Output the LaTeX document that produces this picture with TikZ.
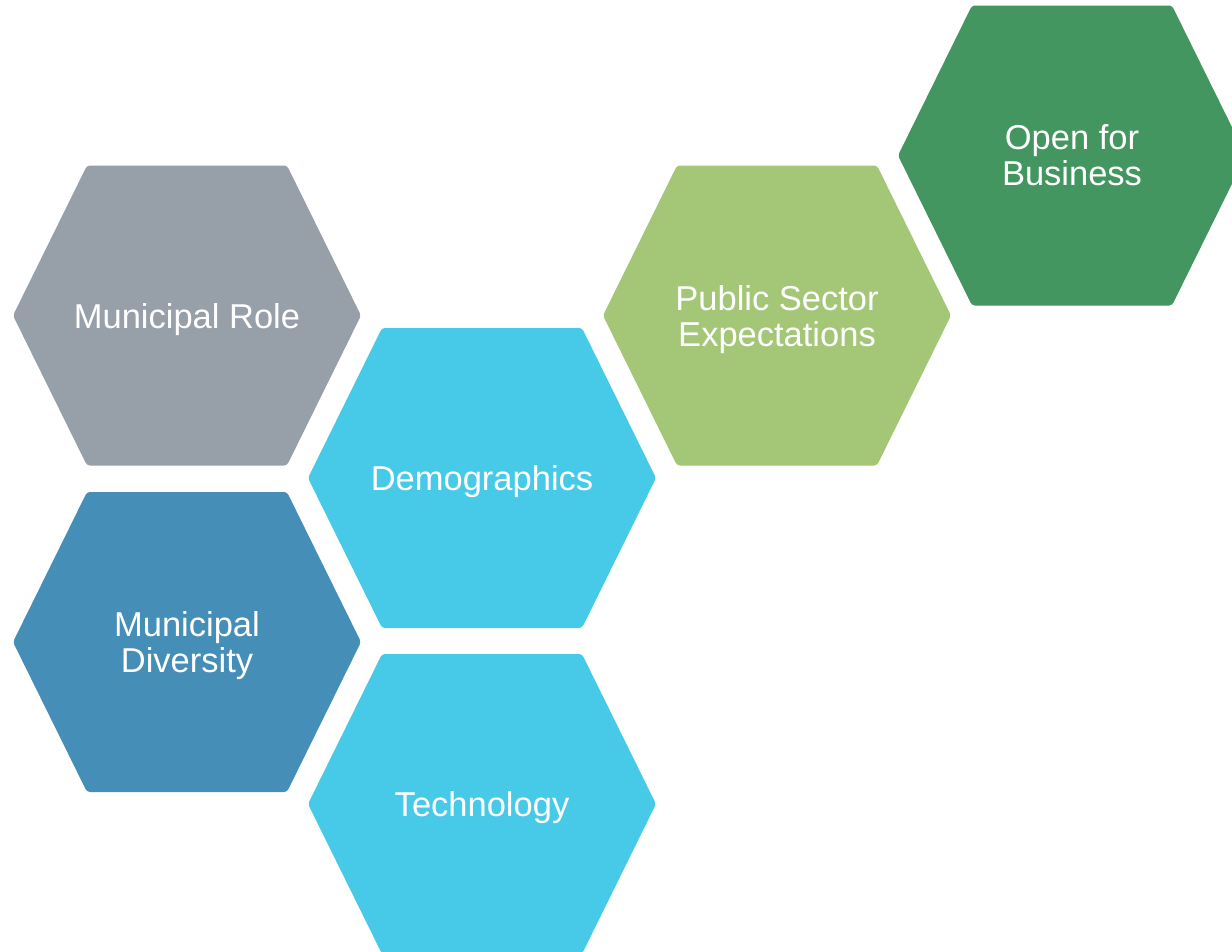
\documentclass[tikz,border=0pt]{standalone}
\usepackage{fontspec}
\setmainfont{Liberation Sans}
\usepackage{tikz}

\begin{document}
\begin{tikzpicture}
		[x=1pt,y=-1pt,line join=round,
		%Styles
		hex/.style={rounded corners=3pt,fill=#1},
		hex text/.style={text=white,align=center,inner sep=0pt,text depth=0pt,font=\fontsize{34.5}{36}\selectfont}
		]
		
		%Colors
		\colorlet{rolecolor}{rgb,255:red,151;green,159;blue,168}
		\colorlet{diversitycolor}{rgb,255:red,69;green,142;blue,184}
		\colorlet{democolor}{rgb,255:red,71;green,202;blue,232}
		\colorlet{publiccolor}{rgb,255:red,163;green,199;blue,119}
		\colorlet{opencolor}{rgb,255:red,67;green,150;blue,96}
		
		\useasboundingbox (0,0) rectangle (1232,951);
		
		%Centres of the hexagons
		\coordinate (role) at (187,315.5);
		\coordinate (diversity) at (187,642);
		\coordinate (demo) at (482,478);
		\coordinate (tech) at (482,804);
		\coordinate (public) at (777,315.5);
		\coordinate (open) at (1072,155.5);
		
		%The graphic
		\foreach \c/\col in {role/rolecolor,diversity/diversitycolor,demo/democolor,tech/democolor,public/publiccolor,open/opencolor}
			\fill[hex=\col] (\c) ++(-174,0) -- ++(74,-150) -- ++(200,0) -- ++(74,150) -- ++(-74,150) -- ++(-200,0) -- cycle;
		
		\node[hex text] (role text) at (role) {Municipal Role};
		\node[hex text] (diversity text) at (diversity) {Municipal\\Diversity};
		\node[hex text] (demo text) at (demo) {Demographics};
		\node[hex text] (tech text) at (tech) {Technology};
		\node[hex text] (public text) at (public) {Public Sector\\Expectations};
		\node[hex text] (open text) at (open) {Open for\\Business};
	\end{tikzpicture}
\end{document}
